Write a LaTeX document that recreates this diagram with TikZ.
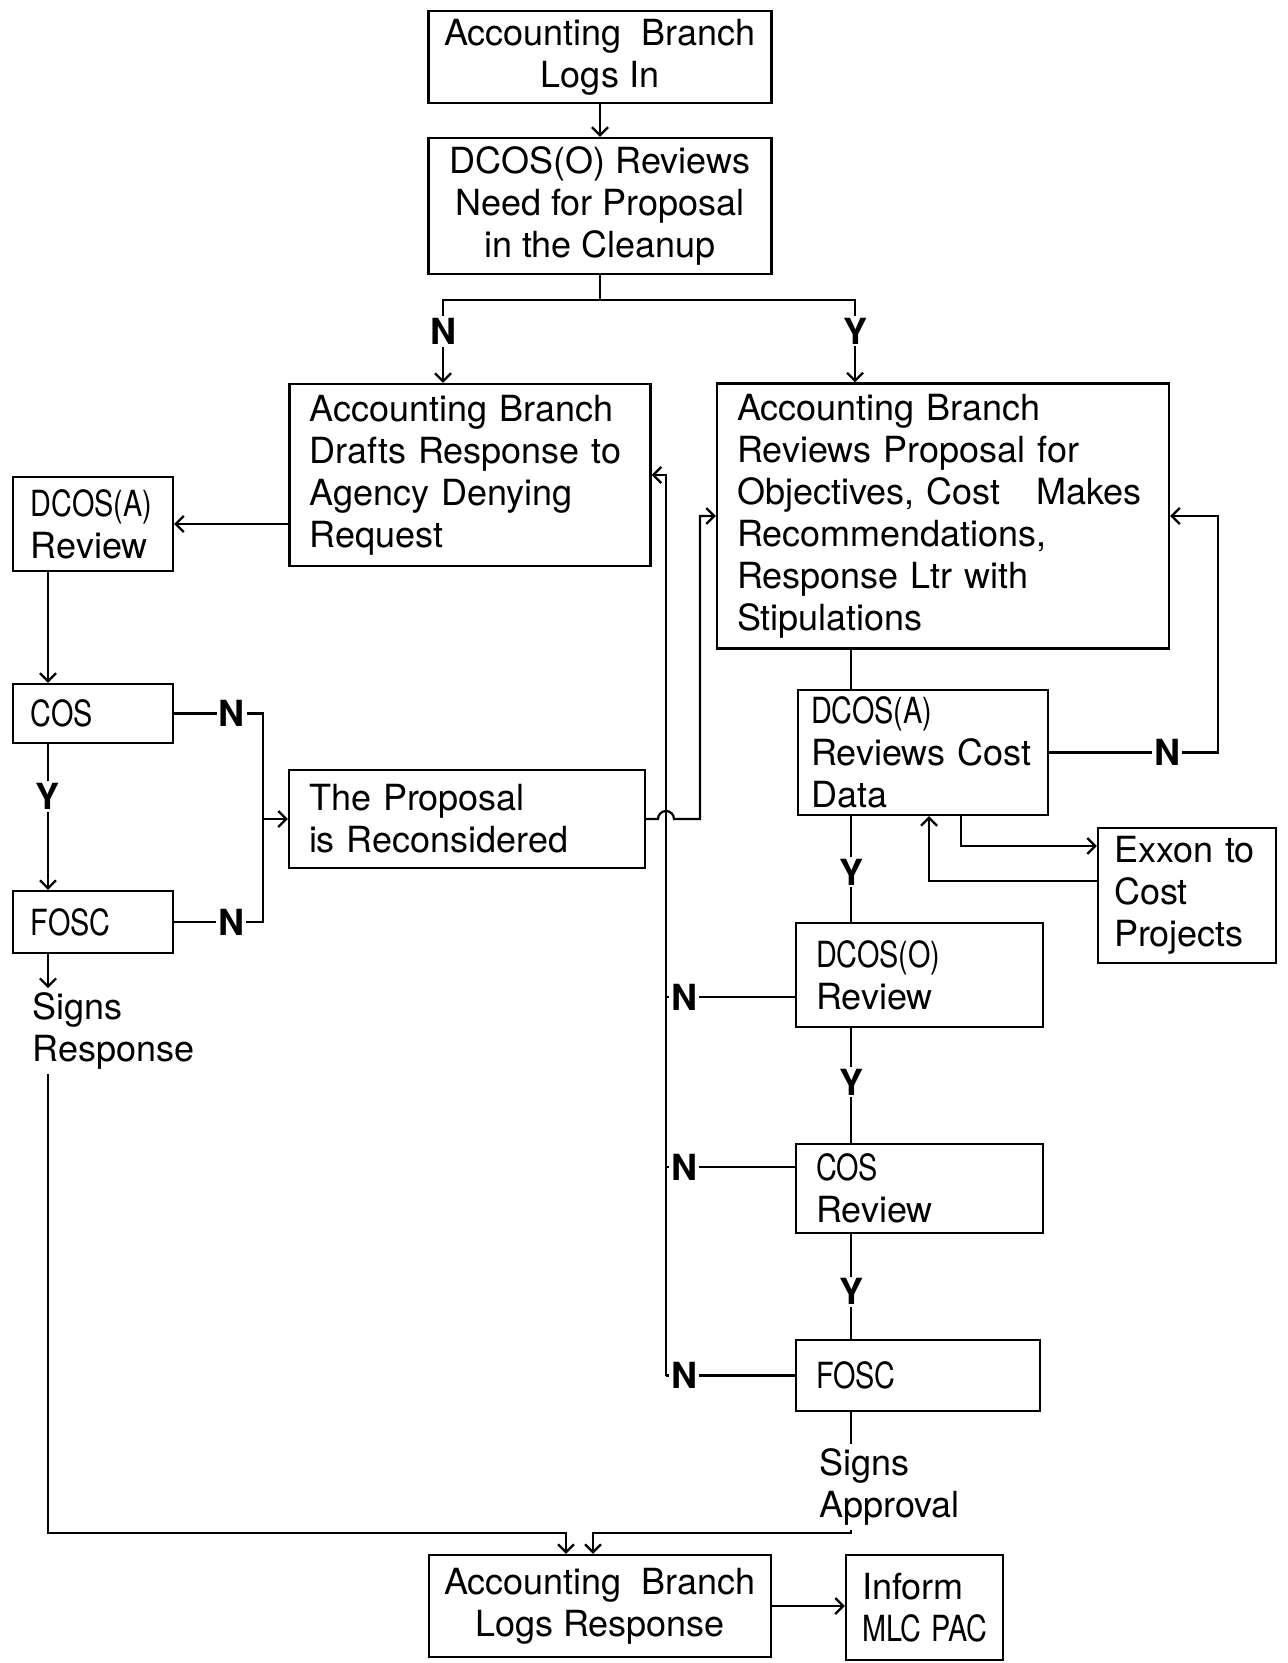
\documentclass[tikz,border=0pt]{standalone}
\usepackage{fontspec}
\setmainfont{TeX Gyre Heros}
\usepackage{graphicx}
\usetikzlibrary{arrows.meta}

% narrow set for the office abbreviations
\newcommand{\cnd}[1]{\scalebox{0.8}[1]{#1}}

\begin{document}
\begin{tikzpicture}[x=0.5pt,y=-0.5pt,
	every node/.style={font=\fontsize{18}{21}\selectfont},
	box/.style={draw,line width=1.2pt,align=left,inner xsep=10pt,inner ysep=2pt},
	cbox/.style={draw,line width=1.2pt,align=center,inner sep=2pt},
	lbl/.style={fill=white,inner sep=1pt,font=\fontsize{18}{21}\selectfont\bfseries},
	link/.style={line width=1.1pt},
	arr/.style={link,-{Straight Barb[length=4pt,width=8pt]}}]
	\useasboundingbox (0,0) rectangle (1287,1663);

	% boxes
	\node[cbox,minimum width=171.5pt,minimum height=46pt] (login) at (600,57) {Accounting\ \ Branch\\Logs In};
	\node[cbox,minimum width=171.5pt,minimum height=68pt] (needrev) at (600,206) {DCOS(O) Reviews\\Need for Proposal\\in the Cleanup};
	\node[box,text width=160.5pt,minimum height=91pt] (drafts) at (470,475) {Accounting Branch\\Drafts Response to\\Agency Denying\\Request};
	\node[box,text width=206pt,minimum height=132.5pt] (propreview) at (943,516) {Accounting Branch\\Reviews Proposal for\\Objectives, Cost\ \ \ Makes\\Recommendations,\\Response Ltr with\\Stipulations};
	\node[box,inner xsep=9pt,text width=62pt,minimum height=47pt] (dcosa) at (93,524) {\cnd{DCOS(A)}\\Review};
	\node[box,inner xsep=9pt,text width=62pt,minimum height=29.5pt] (cosl) at (93,713.5) {\cnd{COS}};
	\node[box,inner xsep=9pt,text width=62pt,minimum height=31pt] (foscl) at (93,922) {\cnd{FOSC}};
	\node[box,text width=158pt,minimum height=49pt] (recon) at (467,819) {The Proposal\\is Reconsidered};
	\node[box,inner xsep=6.5pt,text width=112pt,minimum height=62.5pt] (costdata) at (923,752.5) {\cnd{DCOS(A)}\\Reviews Cost\\Data};
	\node[box,inner xsep=8pt,text width=73pt,minimum height=67.5pt] (exxon) at (1187,895.5) {Exxon to\\Cost\\Projects};
	\node[box,text width=103.5pt,minimum height=52pt] (dcosor) at (919.5,975) {\cnd{DCOS(O)}\\Review};
	\node[box,text width=103.5pt,minimum height=44.5pt] (cosr) at (919.5,1188.5) {\cnd{COS}\\Review};
	\node[box,text width=102pt,minimum height=35.5pt] (foscr) at (918,1375.5) {\cnd{FOSC}};
	\node[cbox,minimum width=171pt,minimum height=51pt] (logresp) at (600,1606) {Accounting\ \ Branch\\Logs Response};
	\node[box,inner xsep=8pt,text width=62.5pt,minimum height=52.5pt] (inform) at (924.5,1607.5) {Inform\\\cnd{MLC PAC}};
	\node[align=left,inner sep=2pt,anchor=north west] (signsresp) at (28,988) {Signs\\Response};
	\node[align=left,inner sep=2pt,anchor=north west] (signsappr) at (815,1444) {Signs\\Approval};

	% bends and columns
	\coordinate (split) at (600,300);
	\coordinate (colL) at (48,1533);
	\coordinate (colR) at (851,1533);
	\coordinate (nbusL) at (263,819);
	\coordinate (nbusR) at (666,0);
	\coordinate (hop) at (658,819);
	\coordinate (riseR) at (700,819);
	\coordinate (loopR) at (1218,0);
	\coordinate (nO) at ([yshift=-11pt]dcosor.west);
	\coordinate (nC) at ([yshift=10.75pt]cosr.west);

	% top
	\draw[arr] (login.south) -- (needrev.north);
	\draw[link] (needrev.south) -- (split);
	\draw[arr] (split) -| node[lbl,pos=0.69]{N} ([xshift=-13.5pt]drafts.north);
	\draw[arr] (split) -| node[lbl,pos=0.69]{Y} ([xshift=-44pt]propreview.north);

	% left column
	\draw[arr] (drafts.west |- dcosa.east) -- (dcosa.east);
	\draw[arr] (colL |- dcosa.south) -- (colL |- cosl.north);
	\draw[arr] (colL |- cosl.south) -- node[lbl,pos=0.36]{Y} (colL |- foscl.north);
	\draw[arr] (colL |- foscl.south) -- (colL |- signsresp.north);
	\draw[arr] (signsresp.south -| colL) -- (colL) -| ([xshift=-17pt]logresp.north);
	\draw[link] (cosl.east) -- node[lbl,pos=0.65]{N} (cosl.east -| nbusL) -- (foscl.east -| nbusL) -- node[lbl,pos=0.36]{N} (foscl.east);
	\draw[arr] (nbusL) -- (recon.west);
	\draw[arr] (recon.east) -- (hop) arc[start angle=180,end angle=0,radius=4pt] -- (riseR) |- (propreview.west);

	% N returns on the right
	\draw[arr] (foscr.west -| nbusR) |- (drafts.east);
	\draw[link] (nO -| nbusR) -- node[lbl,pos=0.14]{N} (nO);
	\draw[link] (nC -| nbusR) -- node[lbl,pos=0.14]{N} (nC);
	\draw[link] (foscr.west -| nbusR) -- node[lbl,pos=0.14]{N} (foscr.west);

	% right column
	\draw[link] (propreview.south -| colR) -- (costdata.north -| colR);
	\draw[arr] (costdata.east) -- node[lbl,pos=0.7]{N} (costdata.east -| loopR) |- (propreview.east);
	\draw[arr] ([xshift=19pt]costdata.south) |- ([yshift=24.75pt]exxon.west);
	\draw[arr] ([yshift=7.25pt]exxon.west) -| ([xshift=3pt]costdata.south);
	\draw[link] (costdata.south -| colR) -- node[lbl,pos=0.53]{Y} (dcosor.north -| colR);
	\draw[link] (dcosor.south -| colR) -- node[lbl,pos=0.47]{Y} (cosr.north -| colR);
	\draw[link] (cosr.south -| colR) -- node[lbl,pos=0.55]{Y} (foscr.north -| colR);
	\draw[link] (foscr.south -| colR) -- (signsappr.north -| colR);
	\draw[arr] (signsappr.south -| colR) -- (colR) -| ([xshift=-3.5pt]logresp.north);

	% bottom
	\draw[arr] (logresp.east) -- (logresp.east -| inform.west);
\end{tikzpicture}
\end{document}
